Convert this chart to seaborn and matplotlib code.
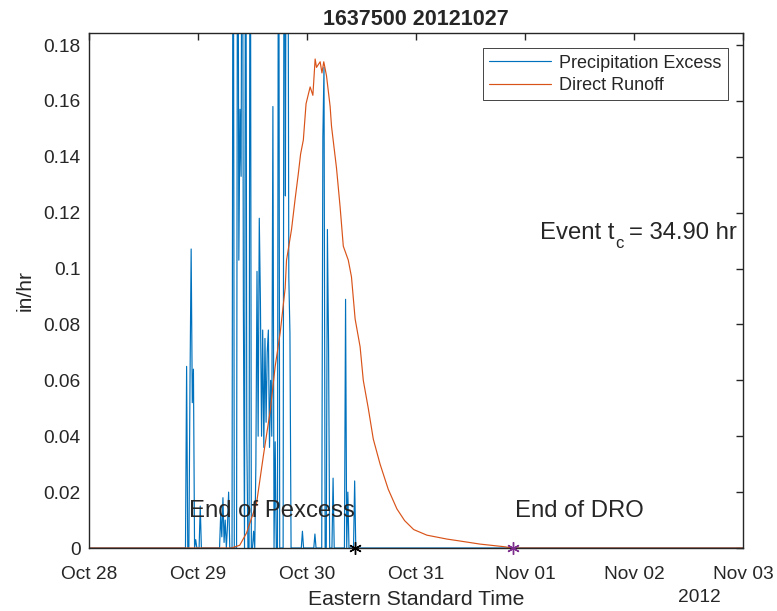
import matplotlib
matplotlib.use("Agg")
import matplotlib.dates as mdates
import matplotlib.pyplot as plt
import matplotlib.ticker as mticker
import pandas as pd
import seaborn as sns

# Precipitation excess (in/hr), 15-minute steps starting at pexcess_start
pexcess_start = "2012-10-28 21:00"
pexcess = [
    0.0, 0.0, 0.065, 0.0, 0.0, 0.06, 0.107, 0.052, 0.064, 0.0,
    0.003, 0.0, 0.0, 0.0, 0.015, 0.0, 0.0, 0.0, 0.0, 0.0,
    0.0, 0.0, 0.0, 0.0, 0.0, 0.0, 0.0, 0.0, 0.0, 0.0,
    0.0, 0.0, 0.012, 0.004, 0.018, 0.002, 0.01, 0.0, 0.008, 0.02,
    0.0, 0.0, 0.0, 0.30, 0.0, 0.0, 0.0, 0.30, 0.103, 0.157,
    0.133, 0.30, 0.087, 0.0, 0.30, 0.04, 0.0, 0.0, 0.30, 0.0,
    0.0, 0.006, 0.0, 0.03, 0.099, 0.04, 0.118, 0.088, 0.04, 0.078,
    0.036, 0.075, 0.045, 0.07, 0.078, 0.036, 0.06, 0.04, 0.158, 0.0,
    0.038, 0.0, 0.0, 0.30, 0.0, 0.0, 0.0, 0.0, 0.30, 0.126,
    0.30, 0.30, 0.097, 0.077, 0.0, 0.0, 0.0, 0.0, 0.0, 0.0,
    0.0, 0.0, 0.0, 0.0, 0.006, 0.0, 0.0, 0.0, 0.0, 0.0,
    0.0, 0.0, 0.0, 0.0, 0.0, 0.005, 0.0, 0.0, 0.0, 0.0,
    0.0, 0.0, 0.147, 0.172, 0.0, 0.0, 0.114, 0.073, 0.0, 0.0,
    0.0, 0.025, 0.0, 0.0, 0.0, 0.0, 0.0, 0.0, 0.0, 0.0,
    0.0, 0.0, 0.089, 0.0, 0.02, 0.0, 0.0, 0.0, 0.0, 0.0,
    0.024, 0.0,
]

# Direct runoff (in/hr), read at hours after Oct 28 00:00
dro_hours = [
    0.0, 31.4, 33.2, 34.7, 36.9, 38.4, 39.9, 41.0, 42.1, 43.2,
    43.5, 44.6, 45.4, 46.1, 46.6, 47.2, 47.8, 48.7, 49.3, 49.8,
    50.1, 50.9, 51.3, 51.7, 52.3, 53.1, 53.4, 54.5, 55.3, 56.0,
    57.1, 57.8, 58.6, 59.7, 60.4, 61.5, 62.6, 64.1, 65.9, 67.8,
    69.5, 71.5, 74.4, 78.8, 81.7, 86.1, 91.2, 93.4, 144.0,
]
dro_values = [
    0.0, 0.0, 0.001, 0.0054, 0.016, 0.033, 0.049, 0.065, 0.077, 0.093,
    0.103, 0.114, 0.125, 0.134, 0.141, 0.146, 0.159, 0.165, 0.162, 0.175,
    0.172, 0.174, 0.170, 0.174, 0.169, 0.158, 0.151, 0.136, 0.122, 0.108,
    0.103, 0.097, 0.082, 0.072, 0.060, 0.050, 0.039, 0.030, 0.021, 0.014,
    0.0098, 0.0066, 0.0046, 0.0032, 0.0025, 0.0014, 0.0005, 0.0, 0.0,
]

axis_start = "2012-10-28"
axis_end = "2012-11-03"
end_pexcess = "2012-10-30 10:35"
end_dro = "2012-10-31 21:20"
event_tc = 34.90
y_max = 0.1843

blue = "#0072BD"
orange = "#D95319"
purple = "#7E2F8E"
ink = "#262626"

sns.set_theme(style="white")
plt.rcParams["font.family"] = ["Liberation Sans", "DejaVu Sans"]

# Build tables
p_times = pd.date_range(pexcess_start, periods=len(pexcess), freq="15min")
pex_df = pd.DataFrame({"time": p_times, "value": pexcess})
pad = pd.DataFrame({"time": pd.to_datetime([axis_start, axis_end]), "value": [0.0, 0.0]})
pex_df = pd.concat([pad.iloc[:1], pex_df, pad.iloc[1:]], ignore_index=True)

dro_df = pd.DataFrame({
    "time": pd.Timestamp(axis_start) + pd.to_timedelta(dro_hours, unit="h"),
    "value": dro_values,
})

fig = plt.figure(figsize=(7.77, 6.11), dpi=100)
ax = fig.add_axes([0.1145, 0.1031, 0.8417, 0.8429])

sns.lineplot(data=pex_df, x="time", y="value", ax=ax, color=blue, lw=0.85,
             estimator=None, label="Precipitation Excess")
sns.lineplot(data=dro_df, x="time", y="value", ax=ax, color=orange, lw=0.85,
             estimator=None, label="Direct Runoff")

ax.plot(pd.Timestamp(end_pexcess), 0, marker=(6, 2, 0), color="black",
        ms=9, mew=1.0, clip_on=False, zorder=5)
ax.plot(pd.Timestamp(end_dro), 0, marker=(6, 2, 0), color=purple,
        ms=9, mew=1.0, clip_on=False, zorder=5)

ax.text(pd.Timestamp(end_pexcess), 0.0132, "End of Pexcess", ha="right",
        va="center", fontsize=17.2)
ax.text(pd.Timestamp(end_dro) + pd.Timedelta(minutes=30), 0.0132, "End of DRO",
        ha="left", va="center", fontsize=17.2)

# Event tc label with a MATLAB-like low subscript
t1 = ax.text(pd.Timestamp("2012-11-01 03:15"), 0.1105, "Event t",
             ha="left", va="baseline", fontsize=17.2)
t2 = ax.annotate("c", xy=(1, 0.1075), xycoords=(t1, "data"), xytext=(1, 0),
                 textcoords="offset points", ha="left", va="baseline",
                 fontsize=12)
ax.annotate(f"= {event_tc:.2f} hr", xy=(1, 0.1105), xycoords=(t2, "data"),
            xytext=(4, 0), textcoords="offset points", ha="left",
            va="baseline", fontsize=17.2)

ax.set_xlim(pd.Timestamp(axis_start), pd.Timestamp(axis_end))
ax.set_ylim(0, y_max)
ax.xaxis.set_major_locator(mdates.DayLocator())
ax.xaxis.set_major_formatter(mdates.DateFormatter("%b %d"))
ax.yaxis.set_major_locator(mticker.MultipleLocator(0.02))
ax.yaxis.set_major_formatter(mticker.FormatStrFormatter("%g"))

ax.tick_params(direction="in", length=5, width=1.0, colors=ink,
               labelsize=13.8, top=True, right=True)
ax.tick_params(axis="x", pad=13)
ax.tick_params(axis="y", pad=6)
for s in ax.spines.values():
    s.set_color(ink)
    s.set_linewidth(1.0)

ax.set_title("1637500 20121027", fontsize=15.5, fontweight="bold", pad=6)
ax.set_xlabel("Eastern Standard Time", fontsize=15.2, color=ink, labelpad=5)
ax.set_ylabel("in/hr", fontsize=15.2, color=ink, labelpad=6)
ax.text(0.934, -0.097, "2012", transform=ax.transAxes, ha="center", va="center",
        fontsize=13.8, color=ink)

leg = ax.legend(loc="upper right", fontsize=13, frameon=True, fancybox=False,
                edgecolor=ink, framealpha=1, handlelength=3.4,
                borderaxespad=0.85, borderpad=0.35, labelspacing=0.3,
                handletextpad=0.45)
leg.get_frame().set_linewidth(0.6)

fig.savefig("out.png", dpi=100)
